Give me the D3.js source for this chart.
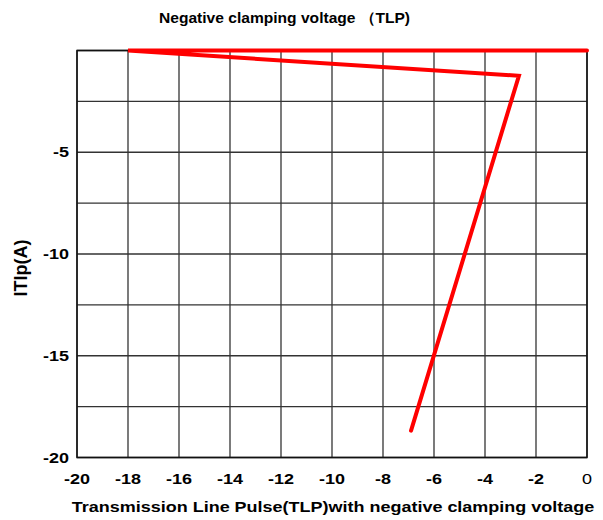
<!DOCTYPE html>
<html>
<head>
<meta charset="utf-8">
<script src="https://cdn.jsdelivr.net/npm/d3@7"></script>
<style>
    body { margin: 0; background: #fff; }
    text { font-family: "Liberation Sans", Arial, sans-serif; }
</style>
</head>
<body>
<div id="chart"></div>
<script>
// data
let voltage = [0, -18, -2.67, -6.9];
let current = [0, 0, -1.24, -18.68];
let xTicks = [-20, -18, -16, -14, -12, -10, -8, -6, -4, -2, 0];
let yGrid = [0, -2.5, -5, -7.5, -10, -12.5, -15, -17.5, -20];
let yTicks = [-5, -10, -15, -20];

let margin = {top: 50.5, right: 16, bottom: 62.5, left: 77};
let width = 603 - margin.left - margin.right;
let height = 520 - margin.top - margin.bottom;
let stretch = "scale(1.2,1)";   // horizontal text is drawn wide in the reference

let svg = d3.select("#chart").append("svg")
    .attr("width", 603)
    .attr("height", 520)
    .append("g")
    .attr("transform", "translate(" + margin.left + "," + margin.top + ")");

let x = d3.scaleLinear().domain([-20, 0]).range([0, width]);
let y = d3.scaleLinear().domain([0, -20]).range([0, height]);

// grid
svg.append("g").selectAll("line")
    .data(xTicks)
    .enter().append("line")
    .attr("x1", d => x(d)).attr("x2", d => x(d))
    .attr("y1", 0).attr("y2", height)
    .attr("stroke", "#333")
    .attr("stroke-width", 1.3);

svg.append("g").selectAll("line")
    .data(yGrid)
    .enter().append("line")
    .attr("x1", 0).attr("x2", width)
    .attr("y1", d => y(d)).attr("y2", d => y(d))
    .attr("stroke", "#333")
    .attr("stroke-width", 1.3);

// border
svg.append("rect")
    .attr("width", width)
    .attr("height", height)
    .attr("fill", "none")
    .attr("stroke", "#111")
    .attr("stroke-width", 1.5);

// x tick labels
svg.append("g").selectAll("text")
    .data(xTicks)
    .enter().append("text")
    .attr("transform", d => "translate(" + x(d) + "," + (height + 26) + ") " + stretch)
    .attr("text-anchor", "middle")
    .attr("font-size", "15px")
    .attr("font-weight", d => d === 0 ? "normal" : "bold")
    .text(d => d);

// y tick labels
svg.append("g").selectAll("text")
    .data(yTicks)
    .enter().append("text")
    .attr("transform", d => "translate(-8," + (y(d) + 5) + ") " + stretch)
    .attr("text-anchor", "end")
    .attr("font-size", "15px")
    .attr("font-weight", "bold")
    .text(d => d);

// the curve
let pts = voltage.map((v, i) => ({v: v, c: current[i]}));
let line = d3.line()
    .x(d => x(d.v))
    .y(d => y(d.c));

svg.append("path")
    .datum(pts)
    .attr("d", line)
    .attr("fill", "none")
    .attr("stroke", "#ff0000")
    .attr("stroke-width", 4)
    .attr("stroke-linejoin", "miter")
    .attr("stroke-linecap", "round");

// titles
svg.append("text")
    .attr("x", 159 - margin.left)
    .attr("y", 23 - margin.top)
    .attr("textLength", 251)
    .attr("lengthAdjust", "spacingAndGlyphs")
    .attr("font-size", "15px")
    .attr("font-weight", "bold")
    .text("Negative clamping voltage （TLP)");

svg.append("text")
    .attr("transform", "translate(" + (333 - margin.left) + "," + (512 - margin.top) + ") " + stretch)
    .attr("text-anchor", "middle")
    .attr("font-size", "15px")
    .attr("font-weight", "bold")
    .text("Transmission Line Pulse(TLP)with negative clamping voltage");

svg.append("text")
    .attr("transform", "translate(" + (27 - margin.left) + "," + (268 - margin.top) + ") rotate(-90)")
    .attr("text-anchor", "middle")
    .attr("font-size", "18px")
    .attr("font-weight", "bold")
    .text("ITlp(A)");
</script>
</body>
</html>
